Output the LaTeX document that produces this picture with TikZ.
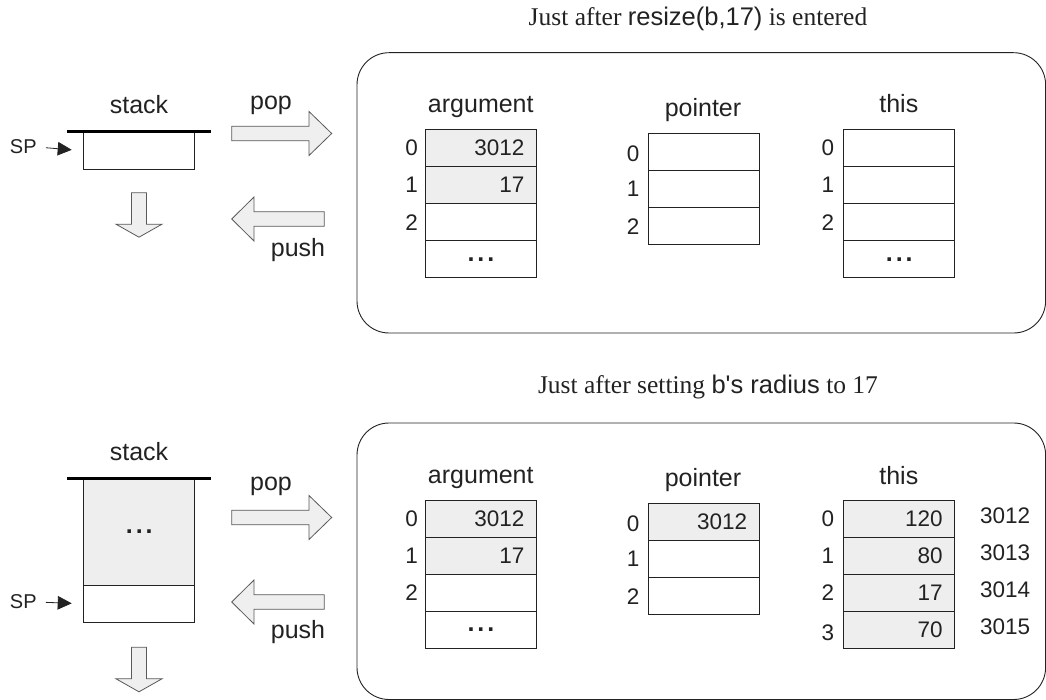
\documentclass[tikz,border=0pt]{standalone}
\usepackage{fontspec}
\setmainfont{Liberation Serif}
\setsansfont{Liberation Sans}
\usetikzlibrary{arrows.meta}

\definecolor{cellgray}{HTML}{EEEEEE}
\definecolor{arrowgray}{HTML}{EFEFEF}
\definecolor{ink}{HTML}{222222}

\newcommand{\labelfont}{\sffamily\fontsize{25}{30}\selectfont}
\newcommand{\numfont}{\sffamily\fontsize{22.5}{27}\selectfont}
\newcommand{\spfont}{\sffamily\fontsize{20}{24}\selectfont}
\newcommand{\titlefont}{\rmfamily\fontsize{25.5}{30}\selectfont}
\newcommand{\celldots}{{\sffamily\bfseries\fontsize{25}{30}\selectfont .\kern3pt.\kern3pt.}}

% block arrows: left x / centre y, or centre x / top y
\newcommand{\rightblock}[2]{%
  \draw[blockarrow] (#1,#2-7.3) -- (#1+77.3,#2-7.3) -- (#1+77.3,#2-22)
    -- (#1+100,#2) -- (#1+77.3,#2+22) -- (#1+77.3,#2+7.3) -- (#1,#2+7.3) -- cycle;}
\newcommand{\leftblock}[2]{%
  \draw[blockarrow] (#1,#2) -- (#1+22.3,#2-22) -- (#1+22.3,#2-7.3)
    -- (#1+92.6,#2-7.3) -- (#1+92.6,#2+7.3) -- (#1+22.3,#2+7.3) -- (#1+22.3,#2+22) -- cycle;}
\newcommand{\downblock}[2]{%
  \draw[blockarrow] (#1-7.5,#2) -- (#1+7.5,#2) -- (#1+7.5,#2+31.5)
    -- (#1+23,#2+31.5) -- (#1,#2+44.5) -- (#1-23,#2+31.5) -- (#1-7.5,#2+31.5) -- cycle;}

\tikzset{
  cell/.style={draw=ink, line width=0.9pt, minimum width=111pt, minimum height=37pt,
    inner ysep=0pt, inner xsep=12pt, text width=87pt, align=right,
    anchor=north west, font=\numfont, text=ink},
  dotcell/.style={cell, align=center},
  shaded/.style={fill=cellgray},
  idx/.style={anchor=east, inner sep=0pt, font=\numfont, text=ink},
  addr/.style={anchor=west, inner sep=0pt, font=\numfont, text=ink},
  head/.style={anchor=base, inner sep=0pt, font=\labelfont, text=ink},
  panel/.style={draw=ink, line width=0.9pt, rounded corners=32pt},
  blockarrow/.style={draw=ink!75, fill=arrowgray, line width=0.8pt, line join=miter},
  stackline/.style={draw=black, line width=2.6pt},
  spnode/.style={inner sep=0pt, font=\spfont, text=ink},
  sparrow/.style={draw=ink, line width=0.8pt, -{Triangle[length=14pt,width=13.5pt]},
    shorten <=9pt, shorten >=11.6pt},
  stackcell/.style={draw=ink, line width=0.9pt, minimum width=111pt, inner sep=0pt,
    anchor=north west, font=\numfont, text=ink}
}

\begin{document}
\begin{tikzpicture}[x=1pt,y=-1pt]
\useasboundingbox (0,0) rectangle (1046,700);

% ---------------- upper state ----------------
\node[anchor=base, inner sep=0pt, font=\titlefont, text=ink] (title1) at (698,26)
  {Just after {\sffamily resize(b,17)} is entered};
\draw[panel] (357,52.7) rectangle (1045.6,333);

% stack
\node[head] (stk1) at (139,114) {stack};
\node[stackcell, minimum height=37.3pt] (st1) at (83.3,131.7) {};
\draw[stackline] (67,131.7) -- (211,131.7);
\node[spnode] (sp1) at (23.3,147) {SP};
\draw[sparrow] (sp1.east) -- (st1.west);
\downblock{139}{192.7}

% pop / push
\node[head] (pop1) at (271,110) {pop};
\rightblock{231.7}{133.5}
\leftblock{231.7}{219}
\node[head] (push1) at (298,256.7) {push};

% argument
\node[head] (arg1) at (480.8,112.7) {argument};
\node[cell,shaded] (a0) at (425,129.3) {3012};
\node[cell,shaded] (a1) at (425,166.3) {17};
\node[cell] (a2) at (425,203.3) {};
\node[dotcell] (a3) at (425,240.3) {\celldots};
\node[idx] (a0i) at ([xshift=-7pt]a0.west) {0};
\node[idx] (a1i) at ([xshift=-7pt]a1.west) {1};
\node[idx] (a2i) at ([xshift=-7pt]a2.west) {2};

% pointer
\node[head] (ptr1) at (703,116.7) {pointer};
\node[cell] (p0) at (647.7,133.3) {};
\node[cell] (p1) at (647.7,170.3) {};
\node[cell] (p2) at (647.7,207.3) {};
\node[idx] (p0i) at ([xshift=-8pt,yshift=-2pt]p0.west) {0};
\node[idx] (p1i) at ([xshift=-8pt]p1.west) {1};
\node[idx] (p2i) at ([xshift=-8pt]p2.west) {2};

% this
\node[head] (this1) at (898.8,113) {this};
\node[cell] (t0) at (843.3,129.3) {};
\node[cell] (t1) at (843.3,166.3) {};
\node[cell] (t2) at (843.3,203.3) {};
\node[dotcell] (t3) at (843.3,240.3) {\celldots};
\node[idx] (t0i) at ([xshift=-9pt]t0.west) {0};
\node[idx] (t1i) at ([xshift=-9pt]t1.west) {1};
\node[idx] (t2i) at ([xshift=-9pt]t2.west) {2};

% ---------------- lower state ----------------
\node[anchor=base, inner sep=0pt, font=\titlefont, text=ink] (title2) at (708,393)
  {Just after setting {\sffamily b\textquotesingle s radius} to 17};
\draw[panel] (357,423) rectangle (1045.6,699.5);

% stack
\node[head] (stk2) at (139,460) {stack};
\node[stackcell, shaded, minimum height=106.7pt] (sg2) at (83.3,478.3) {\celldots};
\node[stackcell, minimum height=36.7pt] (st2) at (83.3,585) {};
\draw[stackline] (67,478.3) -- (211,478.3);
\node[spnode] (sp2) at (23.3,602) {SP};
\draw[sparrow] (sp2.east) -- (st2.west);
\downblock{139}{647.3}

% pop / push
\node[head] (pop2) at (271,490) {pop};
\rightblock{231.7}{517.5}
\leftblock{231.7}{602}
\node[head] (push2) at (298,638.3) {push};

% argument
\node[head] (arg2) at (480.8,483.5) {argument};
\node[cell,shaded] (b0) at (425,500) {3012};
\node[cell,shaded] (b1) at (425,537) {17};
\node[cell] (b2) at (425,574) {};
\node[dotcell] (b3) at (425,611) {\celldots};
\node[idx] (b0i) at ([xshift=-7pt]b0.west) {0};
\node[idx] (b1i) at ([xshift=-7pt]b1.west) {1};
\node[idx] (b2i) at ([xshift=-7pt]b2.west) {2};

% pointer
\node[head] (ptr2) at (703,486.7) {pointer};
\node[cell,shaded] (q0) at (647.7,503.3) {3012};
\node[cell] (q1) at (647.7,540.3) {};
\node[cell] (q2) at (647.7,577.3) {};
\node[idx] (q0i) at ([xshift=-8pt,yshift=-2pt]q0.west) {0};
\node[idx] (q1i) at ([xshift=-8pt]q1.west) {1};
\node[idx] (q2i) at ([xshift=-8pt]q2.west) {2};

% this, with addresses
\node[head] (this2) at (898.8,484) {this};
\node[cell,shaded] (u0) at (843.3,500) {120};
\node[cell,shaded] (u1) at (843.3,537) {80};
\node[cell,shaded] (u2) at (843.3,574) {17};
\node[cell,shaded] (u3) at (843.3,611) {70};
\node[idx] (u0i) at ([xshift=-9pt]u0.west) {0};
\node[idx] (u1i) at ([xshift=-9pt]u1.west) {1};
\node[idx] (u2i) at ([xshift=-9pt]u2.west) {2};
\node[idx] (u3i) at ([xshift=-9pt,yshift=-3pt]u3.west) {3};
\node[addr] (m0) at ([xshift=24.7pt,yshift=3pt]u0.east) {3012};
\node[addr] (m1) at ([xshift=24.7pt,yshift=3pt]u1.east) {3013};
\node[addr] (m2) at ([xshift=24.7pt,yshift=3pt]u2.east) {3014};
\node[addr] (m3) at ([xshift=24.7pt,yshift=3pt]u3.east) {3015};
\end{tikzpicture}
\end{document}
